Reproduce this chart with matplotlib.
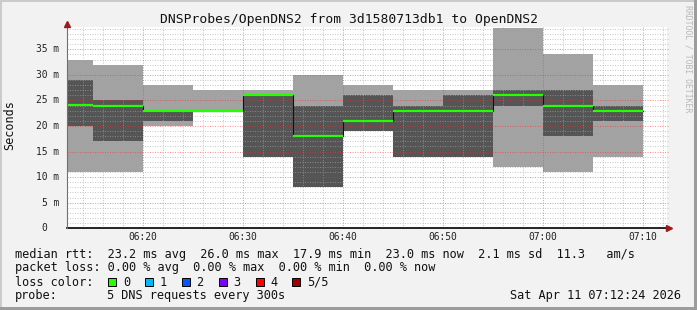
import matplotlib
matplotlib.use('Agg')
import matplotlib.pyplot as plt
from matplotlib.patches import Rectangle

# 5 minute buckets, minutes after 06:00 (first one is partial, starts 06:12:24)
starts = [12.4, 15, 20, 25, 30, 35, 40, 45, 50, 55, 60, 65]
ends = [15, 20, 25, 30, 35, 40, 45, 50, 55, 60, 65, 70]
# smoke ranges in ms
light_lo = [11, 11, 20, 23, 14, 8, 19, 14, 14, 12, 11, 14]
light_hi = [33, 32, 28, 27, 27, 30, 28, 27, 27, 39.1, 34, 28]
dark_lo = [20, 17, 21, 23, 14, 8, 19, 14, 14, 24, 18, 21]
dark_hi = [29, 25, 23, 23, 26, 24, 26, 24, 26, 27, 27, 24]
median = [24.2, 24, 23, 23, 26, 18, 21, 23, 23, 26, 24, 23]

xticks = [20, 30, 40, 50, 60, 70]
xticklabels = ['06:20', '06:30', '06:40', '06:50', '07:00', '07:10']
yticks = [0, 5, 10, 15, 20, 25, 30, 35]
yticklabels = ['0  ', '5 m', '10 m', '15 m', '20 m', '25 m', '30 m', '35 m']

loss_labels = ['0', '1', '2', '3', '4', '5/5']
loss_colors = ['#26ff00', '#00b8ff', '#0059ff', '#7e00ff', '#ff0000', '#a10000']

W, H = 697, 310
MONO = 'DejaVu Sans Mono'


def fx(x):
    return x / W


def fy(y):
    return 1 - y / H


fig = plt.figure(figsize=(W / 100, H / 100), dpi=100, facecolor='#f2f2f2')

# rrdtool style frame
fig.add_artist(Rectangle((0, fy(2)), 1, 2 / H, transform=fig.transFigure, color='#cbcbcb', lw=0))
fig.add_artist(Rectangle((0, 0), 2 / W, 1, transform=fig.transFigure, color='#cbcbcb', lw=0))
fig.add_artist(Rectangle((0, 0), 1, 3 / H, transform=fig.transFigure, color='#9c9c9c', lw=0))
fig.add_artist(Rectangle((fx(W - 3), 0), 3 / W, 1, transform=fig.transFigure, color='#9c9c9c', lw=0))

x0, x1 = 67, 667
y0, y1 = 228.3, 27
ax = fig.add_axes([fx(x0), fy(y0), (x1 - x0) / W, (y0 - y1) / H])
ax.set_facecolor('white')
ax.set_xlim(12.4, 72.4)
ax.set_ylim(0, 39.36)
for s in ax.spines.values():
    s.set_visible(False)

widths = [e - s for s, e in zip(starts, ends)]
ax.bar(starts, [h - l for h, l in zip(light_hi, light_lo)], bottom=light_lo, width=widths,
       align='edge', color='#a2a2a2', linewidth=0, zorder=1)
ax.bar(starts, [h - l for h, l in zip(dark_hi, dark_lo)], bottom=dark_lo, width=widths,
       align='edge', color='#555555', linewidth=0, zorder=2)

# grid on top of the smoke, like rrdtool does
dots = (0, (1, 1.5))
minor_y = [v for v in range(1, 40) if v % 5]
major_y = [v for v in range(5, 40, 5)]
minor_x = [v for v in range(14, 73, 2) if v % 10]
grey = (0.65, 0.65, 0.65, 0.6)
red = (1, 0.15, 0.15, 0.5)
ax.hlines(minor_y, 12.4, 72.5, colors=[grey], lw=0.72, linestyles=[dots], zorder=3, clip_on=False)
ax.vlines(minor_x, 0, 39.36, colors=[grey], lw=0.72, linestyles=[dots], zorder=3)
ax.hlines(major_y, 12.4, 72.5, colors=[red], lw=0.72, linestyles=[dots], zorder=3, clip_on=False)
ax.vlines(xticks, 0, 39.36, colors=[red], lw=0.72, linestyles=[dots], zorder=3)

# median
ax.step(starts + [ends[-1]], median + [median[-1]], where='post', color='#111111', lw=0.8, zorder=4)
ax.hlines(median, starts, ends, colors='#26ff00', lw=1.6, zorder=5)

# axes with arrows
ax.plot([12.4, 72.6], [0, 0], color='#000000', lw=1.2, zorder=6, clip_on=False)
ax.plot([12.4, 12.4], [0, 39.9], color='#707070', lw=0.8, zorder=6, clip_on=False)
ax.plot([72.6], [0], marker='>', color='#9a1c1c', ms=4, zorder=7, clip_on=False)
ax.plot([12.4], [39.9], marker='^', color='#9a1c1c', ms=4, zorder=7, clip_on=False)

ax.set_xticks([])
ax.set_yticks([])
tick_font = dict(family=MONO, fontsize=6.9, color='#222222')
for v, lab in zip(xticks, xticklabels):
    ax.text(v, -(237.3 - y0) / (y0 - y1), lab, transform=ax.get_xaxis_transform(),
            ha='center', va='center', **tick_font)
for v, lab in zip(yticks, yticklabels):
    ax.text(-(x0 - 59.5) / (x1 - x0), v, lab, transform=ax.get_yaxis_transform(),
            ha='right', va='center', **tick_font)

fig.text(fx(348.5), fy(19.3), 'DNSProbes/OpenDNS2 from 3d1580713db1 to OpenDNS2',
         family=MONO, fontsize=9.35, ha='center', va='center', color='#111111')
fig.text(fx(10), fy(125), 'Seconds', family=MONO, fontsize=8.5, rotation=90,
         ha='center', va='center', color='#111111')
fig.text(fx(688), fy(59), 'RRDTOOL / TOBI OETIKER', family=MONO, fontsize=5.9, rotation=270,
         ha='center', va='center', color='#b8b8b8')

leg_font = dict(family=MONO, fontsize=8.55, color='#111111', va='center', ha='left')
fig.text(fx(15), fy(254.3), 'median rtt:  23.2 ms avg  26.0 ms max  17.9 ms min  23.0 ms now  2.1 ms sd  11.3   am/s', **leg_font)
fig.text(fx(15), fy(267.7), 'packet loss: 0.00 % avg  0.00 % max  0.00 % min  0.00 % now', **leg_font)
fig.text(fx(15), fy(282.3), 'loss color:', **leg_font)
for i, (lab, col) in enumerate(zip(loss_labels, loss_colors)):
    bx = 108.3 + i * 36.8
    fig.add_artist(Rectangle((fx(bx), fy(286.3)), 8 / W, 8 / H, transform=fig.transFigure,
                             facecolor=col, edgecolor='#000000', lw=0.7))
    fig.text(fx(bx + 14.5), fy(282.3), lab, **leg_font)
fig.text(fx(15), fy(295.7), 'probe:', **leg_font)
fig.text(fx(107), fy(295.7), '5 DNS requests every 300s', **leg_font)
fig.text(fx(680.5), fy(295.7), 'Sat Apr 11 07:12:24 2026', family=MONO, fontsize=8.55,
         color='#111111', va='center', ha='right')

fig.savefig('out.png', dpi=100, facecolor=fig.get_facecolor())
